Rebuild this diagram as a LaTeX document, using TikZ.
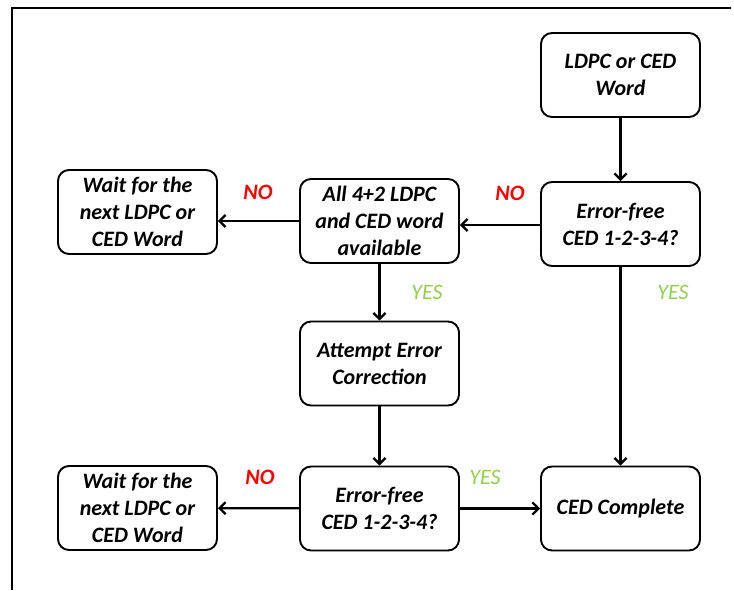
\documentclass[tikz,border=0pt]{standalone}
\usepackage{fontspec}
\setmainfont{Carlito}
\usetikzlibrary{arrows.meta}
\definecolor{nored}{RGB}{255,0,0}
\definecolor{yesgreen}{RGB}{146,208,80}
\tikzset{
  box/.style={draw, line width=1.9pt, rounded corners=11pt, minimum width=159pt,
    minimum height=84pt, align=center, font=\fontsize{22}{27}\selectfont\bfseries\itshape},
  arr/.style={draw, line width=2.3pt, -{Straight Barb[length=6pt,width=12pt]}},
  rarr/.style={draw, line width=2.3pt, {Straight Barb[length=6pt,width=12pt]}-},
  nolbl/.style={text=nored, font=\fontsize{22}{24}\selectfont\bfseries\itshape},
  yeslbl/.style={text=yesgreen, font=\fontsize{22}{24}\selectfont\itshape}
}
\begin{document}
\begin{tikzpicture}[x=1pt,y=-1pt]
  \useasboundingbox (0,0) rectangle (734,590);
  \draw[line width=2.3pt] (12,590) -- (12,8) -- (731,8);

  % boxes
  \node[box] (word) at (620.5,75) {LDPC or CED\\Word};
  \node[box] (chk1) at (620.5,224) {Error-free\\CED 1-2-3-4?};
  \node[box] (avail) at (379.5,221) {All 4+2 LDPC\\and CED word\\available};
  \node[box] (wait1) at (137.5,212) {Wait for the\\next LDPC or\\CED Word};
  \node[box] (try) at (379.5,363.5) {Attempt Error\\Correction};
  \node[box] (chk2) at (379.5,508.5) {Error-free\\CED 1-2-3-4?};
  \node[box] (wait2) at (137.5,508) {Wait for the\\next LDPC or\\CED Word};
  \node[box] (done) at (620.5,508.5) {CED Complete};

  % arrows (the ones pointing left are drawn from their tip end)
  \path[arr] (word) -- (chk1);
  \path[rarr] ([yshift=-1pt]chk1.west -| avail.east) -- ([yshift=-1pt]chk1.west);
  \path[rarr] (avail.west -| wait1.east) -- (avail.west);
  \path[arr] (avail) -- (try);
  \path[arr] (try) -- (chk2);
  \path[arr] (chk1) -- (done);
  \path[rarr] (wait2) -- (chk2);
  \path[arr] (chk2) -- (done);

  % labels
  \node[nolbl] (no1) at (258,192) {NO};
  \node[nolbl] (no2) at (510,193) {NO};
  \node[nolbl] (no3) at (260,477) {NO};
  \node[yeslbl] (yes1) at (427,292) {YES};
  \node[yeslbl] (yes2) at (673,292) {YES};
  \node[yeslbl] (yes3) at (485,477) {YES};
\end{tikzpicture}
\end{document}
